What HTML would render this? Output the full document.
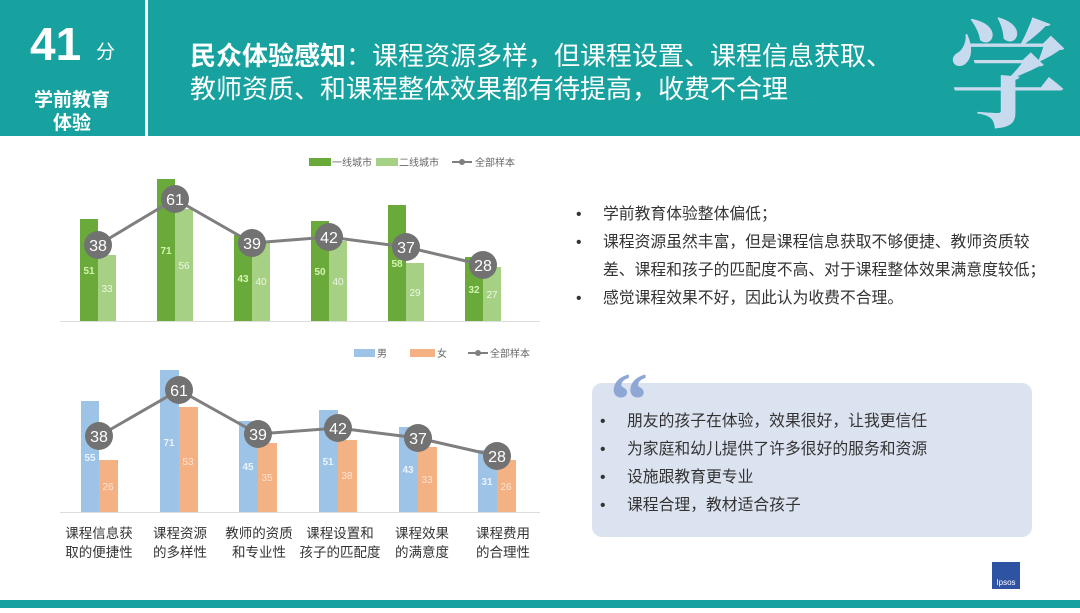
<!DOCTYPE html>
<html><head><meta charset="utf-8"><style>
body{margin:0;width:1080px;height:608px;overflow:hidden;background:#fff;font-family:"Liberation Sans","Noto Sans CJK SC",sans-serif}
</style></head><body>
<svg width="1080" height="608" xmlns="http://www.w3.org/2000/svg" font-family="Liberation Sans, Noto Sans CJK SC, sans-serif">
<rect x="0" y="0" width="1080" height="136" fill="#17A2A0"/>
<rect x="145" y="0" width="3" height="136" fill="#fff"/>
<rect x="0" y="600" width="1080" height="8" fill="#17A2A0"/>
<text x="30" y="60" font-size="46" font-weight="bold" fill="#fff">41</text>
<text x="96" y="58" font-size="19" fill="#fff">分</text>
<text x="72" y="106" font-size="19" font-weight="bold" fill="#fff" text-anchor="middle">学前教育</text>
<text x="72" y="129" font-size="19" font-weight="bold" fill="#fff" text-anchor="middle">体验</text>
<text x="190" y="65" font-size="26" fill="#fff"><tspan font-weight="bold">民众体验感知</tspan>：课程资源多样，但课程设置、课程信息获取、</text>
<text x="190" y="98" font-size="26" fill="#fff">教师资质、和课程整体效果都有待提高，收费不合理</text>
<text x="1008" y="118" font-size="118" font-weight="bold" font-family="Noto Serif CJK SC, serif" fill="#C8DAEE" text-anchor="middle">学</text>

<!-- top chart -->
<g font-size="10" fill="#666">
<rect x="309" y="158" width="22" height="8" fill="#6AAA3A"/><text x="332" y="166">一线城市</text>
<rect x="376" y="158" width="22" height="8" fill="#A6D083"/><text x="399" y="166">二线城市</text>
<line x1="452" y1="162" x2="472" y2="162" stroke="#7F7F7F" stroke-width="2"/><circle cx="462" cy="162" r="3" fill="#7F7F7F"/><text x="475" y="166">全部样本</text>
</g>
<line x1="60" y1="321.5" x2="540" y2="321.5" stroke="#ddd"/>
<g>
<rect x="80" y="219" width="18" height="102" fill="#6AAA3A"/><rect x="98" y="255" width="18" height="66" fill="#A6D083"/>
<rect x="157" y="179" width="18" height="142" fill="#6AAA3A"/><rect x="175" y="209" width="18" height="112" fill="#A6D083"/>
<rect x="234" y="235" width="18" height="86" fill="#6AAA3A"/><rect x="252" y="241" width="18" height="80" fill="#A6D083"/>
<rect x="311" y="221" width="18" height="100" fill="#6AAA3A"/><rect x="329" y="241" width="18" height="80" fill="#A6D083"/>
<rect x="388" y="205" width="18" height="116" fill="#6AAA3A"/><rect x="406" y="263" width="18" height="58" fill="#A6D083"/>
<rect x="465" y="257" width="18" height="64" fill="#6AAA3A"/><rect x="483" y="267" width="18" height="54" fill="#A6D083"/>
</g>
<g font-size="10" text-anchor="middle" font-weight="bold" fill="#D4F5B0">
<text x="89" y="274">51</text><text x="166" y="254">71</text><text x="243" y="282">43</text><text x="320" y="275">50</text><text x="397" y="267">58</text><text x="474" y="293">32</text>
</g>
<g font-size="10" text-anchor="middle" fill="#EEF8E4">
<text x="107" y="292">33</text><text x="184" y="269">56</text><text x="261" y="285">40</text><text x="338" y="285">40</text><text x="415" y="296">29</text><text x="492" y="298">27</text>
</g>
<polyline points="98,245 175,199 252,243 329,237 406,247 483,265" fill="none" stroke="#7F7F7F" stroke-width="3"/>
<g fill="#727272"><circle cx="98" cy="245" r="14"/><circle cx="175" cy="199" r="14"/><circle cx="252" cy="243" r="14"/><circle cx="329" cy="237" r="14"/><circle cx="406" cy="247" r="14"/><circle cx="483" cy="265" r="14"/></g>
<g font-size="16" fill="#fff" text-anchor="middle">
<text x="98" y="251">38</text><text x="175" y="205">61</text><text x="252" y="249">39</text><text x="329" y="243">42</text><text x="406" y="253">37</text><text x="483" y="271">28</text>
</g>

<!-- bottom chart -->
<g font-size="10" fill="#666">
<rect x="354" y="349" width="21" height="8" fill="#9DC3E6"/><text x="377" y="357">男</text>
<rect x="410" y="349" width="25" height="8" fill="#F4B183"/><text x="437" y="357">女</text>
<line x1="468" y1="353" x2="488" y2="353" stroke="#7F7F7F" stroke-width="2"/><circle cx="478" cy="353" r="3" fill="#7F7F7F"/><text x="490" y="357">全部样本</text>
</g>
<line x1="60" y1="512.5" x2="540" y2="512.5" stroke="#ddd"/>
<rect x="81" y="401" width="18" height="111" fill="#9DC3E6"/><rect x="99" y="460" width="19" height="52" fill="#F4B183"/>
<rect x="160" y="370" width="19" height="142" fill="#9DC3E6"/><rect x="179" y="407" width="19" height="105" fill="#F4B183"/>
<rect x="239" y="421" width="19" height="91" fill="#9DC3E6"/><rect x="258" y="443" width="19" height="69" fill="#F4B183"/>
<rect x="319" y="410" width="19" height="102" fill="#9DC3E6"/><rect x="338" y="440" width="19" height="72" fill="#F4B183"/>
<rect x="399" y="427" width="19" height="85" fill="#9DC3E6"/><rect x="418" y="447" width="19" height="65" fill="#F4B183"/>
<rect x="478" y="450" width="19" height="62" fill="#9DC3E6"/><rect x="497" y="460" width="19" height="52" fill="#F4B183"/>
<g font-size="10" text-anchor="middle" font-weight="bold" fill="#EAF3FC">
<text x="90" y="461">55</text><text x="169" y="446">71</text><text x="248" y="470">45</text><text x="328" y="465">51</text><text x="408" y="473">43</text><text x="487" y="485">31</text>
</g>
<g font-size="10" text-anchor="middle" fill="#FCE4D2">
<text x="108" y="490">26</text><text x="188" y="465">53</text><text x="267" y="481">35</text><text x="347" y="479">38</text><text x="427" y="483">33</text><text x="506" y="490">26</text>
</g>
<polyline points="99,436 179,390 258,434 338,428 418,438 497,456" fill="none" stroke="#7F7F7F" stroke-width="3"/>
<g fill="#727272"><circle cx="99" cy="436" r="14"/><circle cx="179" cy="390" r="14"/><circle cx="258" cy="434" r="14"/><circle cx="338" cy="428" r="14"/><circle cx="418" cy="438" r="14"/><circle cx="497" cy="456" r="14"/></g>
<g font-size="16" fill="#fff" text-anchor="middle">
<text x="99" y="442">38</text><text x="179" y="396">61</text><text x="258" y="440">39</text><text x="338" y="434">42</text><text x="418" y="444">37</text><text x="497" y="462">28</text>
</g>
<g font-size="13.5" fill="#333" text-anchor="middle">
<text x="99" y="538">课程信息获</text><text x="99" y="557">取的便捷性</text>
<text x="180" y="538">课程资源</text><text x="180" y="557">的多样性</text>
<text x="259" y="538">教师的资质</text><text x="259" y="557">和专业性</text>
<text x="340" y="538">课程设置和</text><text x="340" y="557">孩子的匹配度</text>
<text x="422" y="538">课程效果</text><text x="422" y="557">的满意度</text>
<text x="503" y="538">课程费用</text><text x="503" y="557">的合理性</text>
</g>

<!-- right text -->
<g font-size="15.8" fill="#333">
<text x="576" y="219">•</text><text x="603" y="219">学前教育体验整体偏低；</text>
<text x="576" y="247">•</text><text x="603" y="247">课程资源虽然丰富，但是课程信息获取不够便捷、教师资质较</text>
<text x="603" y="275">差、课程和孩子的匹配度不高、对于课程整体效果满意度较低；</text>
<text x="576" y="303">•</text><text x="603" y="303">感觉课程效果不好，因此认为收费不合理。</text>
</g>
<rect x="592" y="383" width="440" height="154" rx="10" fill="#DCE3F0"/>
<text x="610" y="425" font-size="76" font-weight="bold" font-family="Liberation Serif, serif" fill="#8FA7D5">“</text>
<g font-size="15.8" fill="#333">
<text x="600" y="426">•</text><text x="627" y="426">朋友的孩子在体验，效果很好，让我更信任</text>
<text x="600" y="454">•</text><text x="627" y="454">为家庭和幼儿提供了许多很好的服务和资源</text>
<text x="600" y="482">•</text><text x="627" y="482">设施跟教育更专业</text>
<text x="600" y="510">•</text><text x="627" y="510">课程合理，教材适合孩子</text>
</g>
<rect x="992" y="562" width="28" height="27" fill="#2F53A3"/>
<text x="1006" y="585" font-size="8" fill="#fff" text-anchor="middle">Ipsos</text>
</svg>
</body></html>
